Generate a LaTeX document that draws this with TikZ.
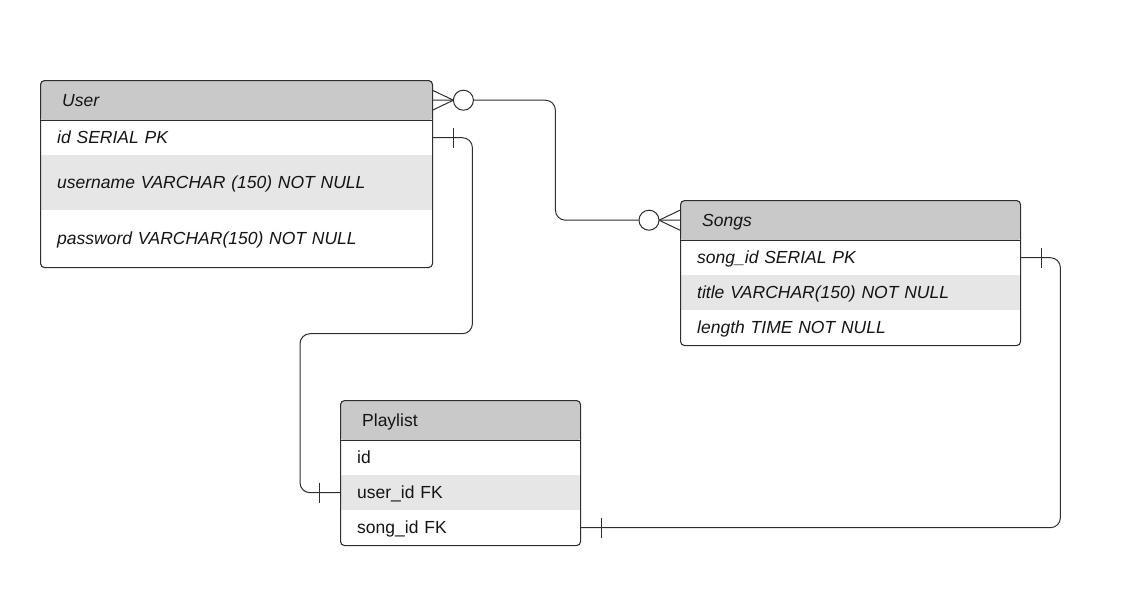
\documentclass[tikz,border=0pt]{standalone}
\usepackage{fontspec}
\setmainfont{Liberation Sans}
\usepackage{xcolor}
\usepackage{tikz}

\definecolor{linecol}{HTML}{2E2E2E}
\definecolor{hdrcol}{HTML}{C9C9C9}
\definecolor{shadecol}{HTML}{E6E6E6}
\definecolor{txtcol}{HTML}{141414}
\newcommand{\erfont}{\fontsize{17.5}{21}\selectfont}

\tikzset{
  tbl/.style={draw=linecol, line width=1.1pt, rounded corners=4pt, anchor=north west, inner sep=0pt,
    path picture={\fill[hdrcol] (path picture bounding box.north west) rectangle ([yshift=-40pt]path picture bounding box.north east);}},
  row/.style={anchor=north west, inner xsep=17pt, inner ysep=0pt, align=left,
    text height=12.5pt, text depth=0pt, text=txtcol, font=\erfont},
  hdr/.style={row, inner xsep=22pt, minimum height=40pt},
  it/.style={font=\erfont\itshape},
  rel/.style={draw=linecol, line width=1pt},
  ring/.style={circle, draw=linecol, fill=white, line width=1pt, minimum size=20pt, inner sep=0pt}
}

\begin{document}
\begin{tikzpicture}[x=1pt, y=-1pt]
      \useasboundingbox (0,0) rectangle (1131,605);
      % User
      \node[row, it, text width=358pt, minimum height=35pt] (user-id) at (40,120) {id SERIAL PK};
      \node[row, it, text width=358pt, minimum height=55pt, fill=shadecol] (user-name) at (40,155) {username VARCHAR (150) NOT NULL};
      \node[row, it, text width=358pt, minimum height=57pt] (user-pw) at (40,210) {password VARCHAR(150) NOT NULL};
      \node[tbl, minimum width=392pt, minimum height=187pt] (user) at (40,80) {};
      \node[hdr, it, text width=348pt] (user-h) at (40,80) {User};
      \draw[rel] (user-id.north west) -- (user-id.north east);
      % Songs
      \node[row, it, text width=306pt, minimum height=35pt] (songs-id) at (680,240) {song\_id SERIAL PK};
      \node[row, it, text width=306pt, minimum height=35pt, fill=shadecol] (songs-title) at (680,275) {title VARCHAR(150) NOT NULL};
      \node[row, it, text width=306pt, minimum height=35pt] (songs-len) at (680,310) {length TIME NOT NULL};
      \node[tbl, minimum width=340pt, minimum height=145pt] (songs) at (680,200) {};
      \node[hdr, it, text width=296pt] (songs-h) at (680,200) {Songs};
      \draw[rel] (songs-id.north west) -- (songs-id.north east);
      % Playlist
      \node[row, text width=206pt, minimum height=35pt] (plist-id) at (340,440) {id};
      \node[row, text width=206pt, minimum height=35pt, fill=shadecol] (plist-uid) at (340,475) {user\_id FK};
      \node[row, text width=206pt, minimum height=35pt] (plist-sid) at (340,510) {song\_id FK};
      \node[tbl, minimum width=240pt, minimum height=145pt] (plist) at (340,400) {};
      \node[hdr, text width=196pt] (plist-h) at (340,400) {Playlist};
      \draw[rel] (plist-id.north west) -- (plist-id.north east);
      % User -- Songs (many to many)
      \draw[rel, rounded corners=10pt] (user-h.east) -- ++(123,0) |- (songs-h.west);
      \draw[rel] (user-h.east) ++(0,-10) -- ++(21,10) -- ++(-21,10);
      \draw[rel] (songs-h.west) ++(0,-10) -- ++(-21,10) -- ++(21,10);
      \node[ring] (user-ring) at ([xshift=31pt]user-h.east) {};
      \node[ring] (songs-ring) at ([xshift=-31pt]songs-h.west) {};
      % User -- Playlist
      \draw[rel, rounded corners=10pt] (user-id.east) -- ++(40,0) -- ++(0,196) -| ([xshift=-40pt]plist-uid.west) -- (plist-uid.west);
      \draw[rel] ([xshift=21pt]user-id.east) ++(0,-10) -- ++(0,20);
      \draw[rel] ([xshift=-21pt]plist-uid.west) ++(0,-10) -- ++(0,20);
      % Songs -- Playlist
      \draw[rel, rounded corners=10pt] (songs-id.east) -- ++(40,0) |- (plist-sid.east);
      \draw[rel] ([xshift=21pt]songs-id.east) ++(0,-10) -- ++(0,20);
      \draw[rel] ([xshift=21pt]plist-sid.east) ++(0,-10) -- ++(0,20);
\end{tikzpicture}
\end{document}
